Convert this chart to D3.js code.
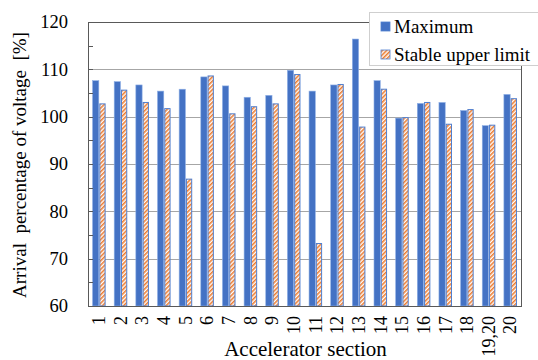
<!DOCTYPE html>
<html><head><meta charset="utf-8"><script src="https://cdn.jsdelivr.net/npm/d3@7"></script></head>
<body style="margin:0">
<script>
// data
var sections = ["1","2","3","4","5","6","7","8","9","10","11","12","13","14","15","16","17","18","19,20","20"];
var maximum = [107.6,107.4,106.7,105.4,105.8,108.4,106.5,104.1,104.5,109.8,105.4,106.7,116.4,107.6,99.7,102.8,103.0,101.3,98.1,104.7];
var stableUpper = [102.7,105.6,103.0,101.7,86.8,108.6,100.6,102.1,102.7,108.9,73.2,106.8,97.8,105.8,99.8,103.0,98.4,101.5,98.2,103.8];
var yTicks = [60,70,80,90,100,110,120];

var FONT = "Liberation Serif";

var width = 538, height = 360;
var margin = { top: 22, right: 17, bottom: 54, left: 88 };
var w = width - margin.left - margin.right;
var h = height - margin.top - margin.bottom;

var svg = d3.select("body").append("svg")
	.attr("width", width)
	.attr("height", height)
	.style("font-family", FONT);

// stripe pattern for the stable upper limit bars
var defs = svg.append("defs");
var pat = defs.append("pattern")
	.attr("id", "stripes")
	.attr("patternUnits", "userSpaceOnUse")
	.attr("width", 3)
	.attr("height", 3)
	.attr("patternTransform", "rotate(45)");
pat.append("rect").attr("width", 3).attr("height", 3).attr("fill", "#fff");
pat.append("rect").attr("width", 1.6).attr("height", 3).attr("fill", "#ED7D31");

var g = svg.append("g")
	.attr("transform", "translate(" + margin.left + "," + margin.top + ")");

//Scales
var x = d3.scaleBand()
	.domain(sections)
	.range([0, w])
	.paddingInner(0.42)
	.paddingOuter(0.21);

var y = d3.scaleLinear()
	.domain([60, 120])
	.range([h, 0]);

//gridlines
g.append("g")
	.selectAll("line")
	.data(yTicks.slice(1, -1))
	.enter().append("line")
	.attr("x1", 0)
	.attr("x2", w)
	.attr("y1", function(d) { return Math.round(y(d)) + 0.5; })
	.attr("y2", function(d) { return Math.round(y(d)) + 0.5; })
	.attr("stroke", "#a6a6a6")
	.attr("stroke-width", 1);

var bw = x.bandwidth() / 2;

//bars
g.append("g").selectAll("rect")
	.data(maximum)
	.enter().append("rect")
	.attr("x", function(d, i) { return x(sections[i]); })
	.attr("y", function(d) { return y(d); })
	.attr("width", bw)
	.attr("height", function(d) { return h - y(d); })
	.attr("fill", "#4472C4")
	.attr("stroke", "#8fb0e6")
	.attr("stroke-width", 0.6);

g.append("g").selectAll("rect")
	.data(stableUpper)
	.enter().append("rect")
	.attr("x", function(d, i) { return x(sections[i]) + bw + 1; })
	.attr("y", function(d) { return y(d); })
	.attr("width", bw - 1)
	.attr("height", function(d) { return h - y(d); })
	.attr("fill", "url(#stripes)")
	.attr("stroke", "#4f7fd0")
	.attr("stroke-width", 1);

//plot border
g.append("rect")
	.attr("x", 0.5)
	.attr("y", 0.5)
	.attr("width", w)
	.attr("height", h)
	.attr("fill", "none")
	.attr("stroke", "#595959")
	.attr("stroke-width", 1);

//y axis labels (ticks drawn inward below)
g.append("g")
	.selectAll("text")
	.data(yTicks)
	.enter().append("text")
	.attr("x", -20)
	.attr("y", function(d) { return y(d); })
	.attr("dy", "0.35em")
	.attr("text-anchor", "end")
	.style("font-family", FONT)
	.style("font-size", "18.5px")
	.text(function(d) { return d; });

g.append("g")
	.selectAll("line")
	.data(d3.range(60, 121, 5))
	.enter().append("line")
	.attr("x1", 0)
	.attr("x2", 5)
	.attr("y1", function(d) { return Math.round(y(d)) + 0.5; })
	.attr("y2", function(d) { return Math.round(y(d)) + 0.5; })
	.attr("stroke", "#595959");

//x axis labels, rotated
g.append("g")
	.selectAll("text")
	.data(sections)
	.enter().append("text")
	.attr("transform", function(d) { return "translate(" + (x(d) + x.bandwidth() / 2) + "," + (h + 10) + ") rotate(-90)"; })
	.attr("dy", "0.35em")
	.attr("text-anchor", "end")
	.style("font-family", FONT)
	.style("font-size", "18px")
	.text(function(d) { return d; });

//axis titles
svg.append("text")
	.attr("transform", "translate(26," + (margin.top + h / 2 + 1) + ") rotate(-90)")
	.attr("text-anchor", "middle")
	.style("font-family", FONT)
	.style("font-size", "19px")
	.style("white-space", "pre")
	.text("Arrival  percentage of voltage  [%]");

svg.append("text")
	.attr("x", margin.left + w / 2 + 1)
	.attr("y", 356)
	.attr("text-anchor", "middle")
	.style("font-family", FONT)
	.style("font-size", "21px")
	.text("Accelerator section");

//legend
var legendData = [
	{ text: "Maximum", fill: "#4472C4" },
	{ text: "Stable upper limit", fill: "url(#stripes)" }
];
var legend = svg.append("g").attr("transform", "translate(369,12)");
legend.append("rect")
	.attr("x", 0.5).attr("y", 0.5)
	.attr("width", 172).attr("height", 53)
	.attr("fill", "#fff")
	.attr("stroke", "#cfcfcf");
var item = legend.selectAll(".item")
	.data(legendData)
	.enter().append("g")
	.attr("class", "item")
	.attr("transform", function(d, i) { return "translate(12," + (15 + i * 28) + ")"; });
item.append("rect")
	.attr("x", 0).attr("y", -5)
	.attr("width", 9).attr("height", 9)
	.attr("fill", function(d) { return d.fill; })
	.attr("stroke", "#4f7fd0")
	.attr("stroke-width", 0.8);
item.append("text")
	.attr("x", 13)
	.attr("dy", "0.3em")
	.style("font-family", FONT)
	.style("font-size", "19px")
	.text(function(d) { return d.text; });
</script>
</body></html>
